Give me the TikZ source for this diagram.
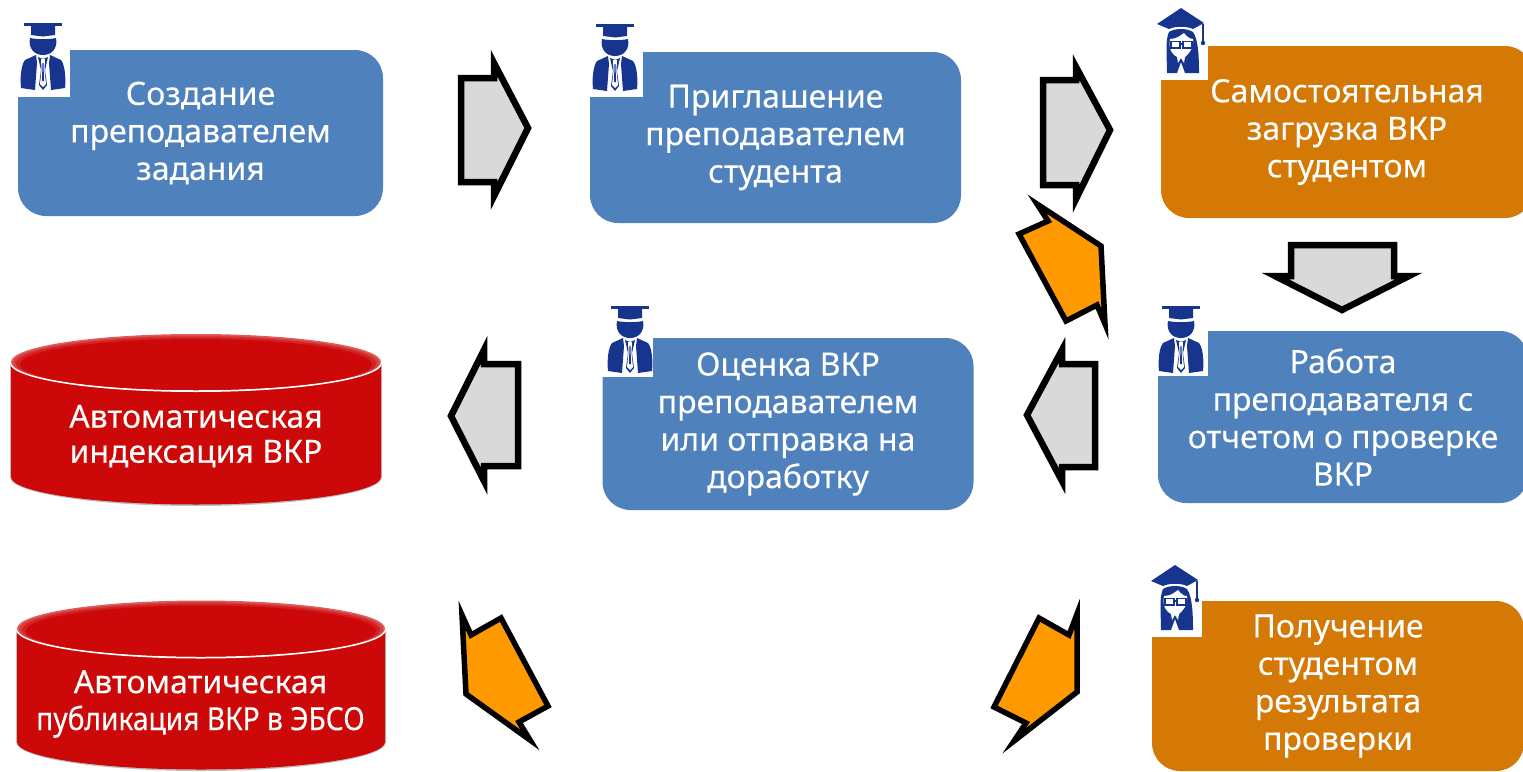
\documentclass[tikz,border=0pt]{standalone}
\usepackage{fontspec}
\setmainfont[FakeBold=0.2]{Noto Sans}
\newfontfamily\narrowfont[FakeStretch=0.88,FakeBold=0.2]{Noto Sans}
\definecolor{boxblue}{HTML}{4F81BD}
\definecolor{boxorange}{HTML}{D47806}
\definecolor{cylred}{HTML}{CC0808}
\definecolor{iconblue}{HTML}{17358F}
\definecolor{arrowgray}{HTML}{D9D9D9}
\definecolor{arroworange}{HTML}{FF9900}
\tikzset{
  stepbox/.style={rounded corners=28pt,inner sep=0pt,text=white,align=center,
    font=\fontsize{32}{37.5}\selectfont,execute at begin node={\rule{0pt}{34pt}}},
  bluebox/.style={stepbox,fill=boxblue},
  orangebox/.style={stepbox,fill=boxorange},
  cyltext/.style={text=white,align=center,inner sep=0pt,font=\fontsize{32}{37}\selectfont},
  notch/.style={fill=white,draw=none},
  grayarrow/.style={draw=black,fill=arrowgray,line width=6.5pt,miter limit=12},
  orangearrow/.style={draw=black,fill=arroworange,line width=5.5pt,miter limit=12},
  male/.pic={
    \fill[iconblue] (-18,0) rectangle (20,3);
    \fill[iconblue] (-11,3) -- (13,3) -- (13,12) -- (1,13.5) -- (-11,12) -- cycle;
    \fill[iconblue] (-12,15) .. controls (-6,16.5) and (8,16.5) .. (14,15)
       .. controls (16,25) and (10,32) .. (1,32) .. controls (-8,32) and (-14,25) .. (-12,15) -- cycle;
    \fill[iconblue] (-6,32) -- (-17,37) .. controls (-21,42) and (-22,55) .. (-21,65)
       -- (-7,67) -- (-5,40) -- cycle;
    \fill[iconblue] (8,32) -- (19,37) .. controls (23,42) and (24,55) .. (23,65)
       -- (9,67) -- (7,40) -- cycle;
    \fill[iconblue] (-4,34) -- (-1,47) -- (-3,62) -- (1,67) -- (5,62) -- (3,47) -- (6,34) -- (1,36) -- cycle;
    \fill[white] (-1,36) -- (3,36) -- (2.5,47) -- (4,61) -- (1,64) -- (-2,61) -- (-.5,47) -- cycle;
    \fill[iconblue] (.5,40) -- (1.5,40) -- (2,58) -- (0,58) -- cycle;
  },
  female/.pic={
    \fill[iconblue] (0,0) -- (23,15) -- (12,21) .. controls (6,18) and (-6,18) .. (-12,21) -- (-24,16) -- cycle;
    \draw[iconblue,line width=1.2pt] (22,16) -- (22,34);
    \fill[iconblue] (22,35) circle (2.2);
    \fill[iconblue] (-12,24) .. controls (-6,20) and (6,20) .. (12,24)
       .. controls (18,32) and (18,55) .. (18,65) -- (4,65) -- (0,54) -- (-4,65) -- (-14,65)
       .. controls (-14,50) and (-16,32) .. (-12,24) -- cycle;
    \fill[white] (-11,31) .. controls (-4,31) and (0,27) .. (3,25) .. controls (6,29) and (9,31) .. (12,31)
       .. controls (13,42) and (6,47) .. (4,49) -- (3,55) -- (0,50) -- (-3,55) -- (-4,49)
       .. controls (-8,47) and (-13,42) .. (-11,31) -- cycle;
    \draw[iconblue,line width=1.2pt] (-10,33.5) rectangle (-1,40) (2,33.5) rectangle (11,40) (-1,36) -- (2,36);
  },
}
\begin{document}
\begin{tikzpicture}[x=1pt,y=-1pt]
\useasboundingbox (0,0) rectangle (1523,771);

% process boxes
\node[bluebox,minimum width=365pt,minimum height=166pt] (create) at (200.5,133) {Создание\\преподавателем\\задания};
\node[bluebox,minimum width=371pt,minimum height=171pt] (invite) at (775.5,137.5) {Приглашение\\преподавателем\\студента};
\node[orangebox,minimum width=372pt,minimum height=172pt] (upload) at (1347,132) {Самостоятельная\\загрузка ВКР\\студентом};
\node[bluebox,minimum width=370pt,minimum height=172pt] (report) at (1343,417) {Работа\\преподавателя с\\отчетом о проверке\\ВКР};
\node[bluebox,minimum width=371pt,minimum height=172pt] (grade) at (788,424) {Оценка ВКР\\преподавателем\\или отправка на\\доработку};
\node[orangebox,minimum width=372pt,minimum height=170pt] (result) at (1338,686) {Получение\\студентом\\результата\\проверки};

% icon backgrounds
\fill[notch] (17,46) rectangle (70,97);
\fill[notch] (589,48) rectangle (643,97);
\fill[notch] (1160,40) rectangle (1208,80);
\fill[notch] (1157,325) rectangle (1208,376);
\fill[notch] (602,332) rectangle (653,377);
\fill[notch] (1151,596) rectangle (1202,637);

% icons
\pic at (42,23) {male};
\pic at (614,24) {male};
\pic at (1180,306) {male};
\pic at (629,306) {male};
\pic at (1181,8) {female};
\pic at (1175,565) {female};

% red cylinders
\foreach \cx/\cy/\bot/\rx in {196/363/477/186,201/629.5/742/185}{
  \fill[black!25] (\cx-\rx,\cy) -- (\cx-\rx,\bot) arc[start angle=180,end angle=0,x radius=\rx,y radius=29] -- (\cx+\rx,\cy) -- cycle;
  \fill[cylred] (\cx-\rx+1,\cy) -- (\cx-\rx+1,\bot) arc[start angle=180,end angle=0,x radius=\rx-1,y radius=27.5] -- (\cx+\rx-1,\cy) -- cycle;
  \fill[white] (\cx,\cy) ellipse[x radius=\rx,y radius=29];
  \fill[cylred!65!white] (\cx,\cy-1) ellipse[x radius=\rx-1,y radius=28];
  \fill[cylred!78!white] (\cx,\cy-0.25) ellipse[x radius=\rx-3,y radius=27.25];
  \fill[cylred!90!white] (\cx,\cy+0.5) ellipse[x radius=\rx-6,y radius=26.5];
  \fill[cylred] (\cx,\cy+1.5) ellipse[x radius=\rx-10,y radius=25.5];
}
\node[cyltext] (index) at (196,436) {Автоматическая\\[-2pt]индексация ВКР};
\node[cyltext] (publish) at (200.5,704) {Автоматическая\\{\narrowfont публикация ВКР в ЭБСО}};

% block arrows
\path[grayarrow] (461,78) -- (494,78) -- (494,63) -- (528,128) -- (494,196) -- (494,182) -- (461,182) -- cycle;
\path[grayarrow] (1043,80) -- (1076,80) -- (1076,67) -- (1110,130) -- (1076,199) -- (1076,185) -- (1043,185) -- cycle;
\path[grayarrow] (1291,245) -- (1394,245) -- (1394,276) -- (1409,276) -- (1342,310) -- (1275,276) -- (1291,276) -- cycle;
\path[grayarrow] (1095,364) -- (1062,364) -- (1062,350) -- (1027,415) -- (1062,481) -- (1062,467) -- (1095,467) -- cycle;
\path[grayarrow] (518,364) -- (484,364) -- (484,350) -- (451,416) -- (484,481) -- (484,466) -- (518,466) -- cycle;
\path[orangearrow] (1037,204) -- (1048,221) -- (1019,234) -- (1066,321) -- (1097,305) -- (1105,324) -- (1101,246) -- cycle;
\path[orangearrow] (462,615) -- (471,635) -- (501,618) -- (548,706) -- (519,722) -- (530,740) -- (466,694) -- cycle;
\path[orangearrow] (1077,614) -- (1069,635) -- (1039,618) -- (994,707) -- (1026,723) -- (1014,741) -- (1077,692) -- cycle;
\end{tikzpicture}
\end{document}
